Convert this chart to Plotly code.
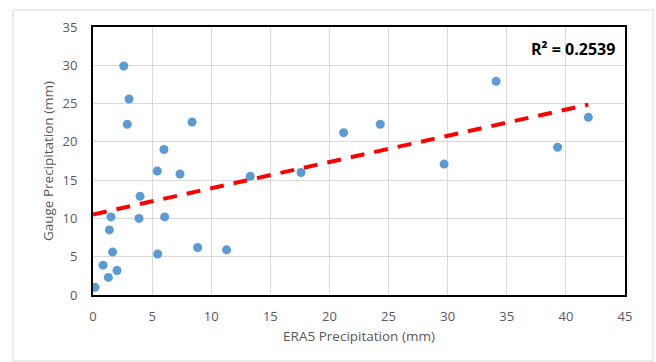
import numpy as np
import plotly.graph_objects as go

era5_mm = [0.17, 0.85, 1.3, 2.03, 1.66, 1.38, 1.52, 3.89, 3.98, 6.06, 5.47, 5.44, 7.36, 8.85,
           11.3, 13.3, 2.6, 3.05, 2.9, 8.38, 6.0, 21.2, 24.3, 29.7, 17.6, 34.1, 41.9, 39.3]
gauge_mm = [1.0, 3.9, 2.3, 3.2, 5.6, 8.5, 10.2, 10.0, 12.9, 10.2, 5.35, 16.2, 15.8, 6.2,
            5.9, 15.5, 29.9, 25.6, 22.3, 22.6, 19.0, 21.2, 22.3, 17.1, 16.0, 27.9, 23.2, 19.3]
r2_label = "R² = 0.2539"
x_ticks = [0, 5, 10, 15, 20, 25, 30, 35, 40, 45]
y_ticks = [0, 5, 10, 15, 20, 25, 30, 35]

x = np.array(era5_mm)
y = np.array(gauge_mm)
slope, intercept = np.polyfit(x, y, 1)
tx = np.array([0.0, x.max()])
ty = intercept + slope * tx

font = "'Open Sans', 'Noto Sans', sans-serif"
fig = go.Figure()
fig.add_trace(go.Scatter(x=tx, y=ty, mode="lines",
                         line=dict(color="#FF0000", width=4, dash="14px,10px"),
                         hoverinfo="skip", showlegend=False))
fig.add_trace(go.Scatter(x=era5_mm, y=gauge_mm, mode="markers",
                         marker=dict(color="#5B9BD5", size=9, line=dict(width=0)),
                         showlegend=False))

axis_common = dict(showgrid=True, gridcolor="#D9D9D9", gridwidth=1, zeroline=False,
                   showline=True, linecolor="black", linewidth=2, mirror=True,
                   ticks="", automargin=False,
                   tickfont=dict(family=font, size=13, color="#595959"),
                   title_font=dict(family=font, size=13.5, color="#595959"))
fig.update_xaxes(range=[0, 45], tickvals=x_ticks, title_text="ERA5 Precipitation (mm)",
                 ticklabelstandoff=8, title_standoff=8, **axis_common)
fig.update_yaxes(range=[0, 35], tickvals=y_ticks, title_text="Gauge Precipitation (mm)",
                 ticklabelstandoff=11, title_standoff=6, **axis_common)

fig.add_annotation(text="<b>" + r2_label + "</b>", xref="paper", yref="paper",
                   x=0.985, y=0.918, xanchor="right", yanchor="middle", showarrow=False,
                   font=dict(family=font, size=16, color="black"))

fig.add_shape(type="rect", xref="paper", yref="paper",
              x0=(13 - 93) / 532, x1=(653 - 93) / 532,
              y0=(295 - 361) / 268, y1=(295 - 10) / 268,
              line=dict(color="#D9D9D9", width=1), layer="below")

fig.update_layout(width=656, height=362, margin=dict(l=93, r=31, t=27, b=67),
                  plot_bgcolor="white", paper_bgcolor="white")
fig.write_html("out.html", config={"displayModeBar": False},
               post_script="document.body.style.margin='0';")
